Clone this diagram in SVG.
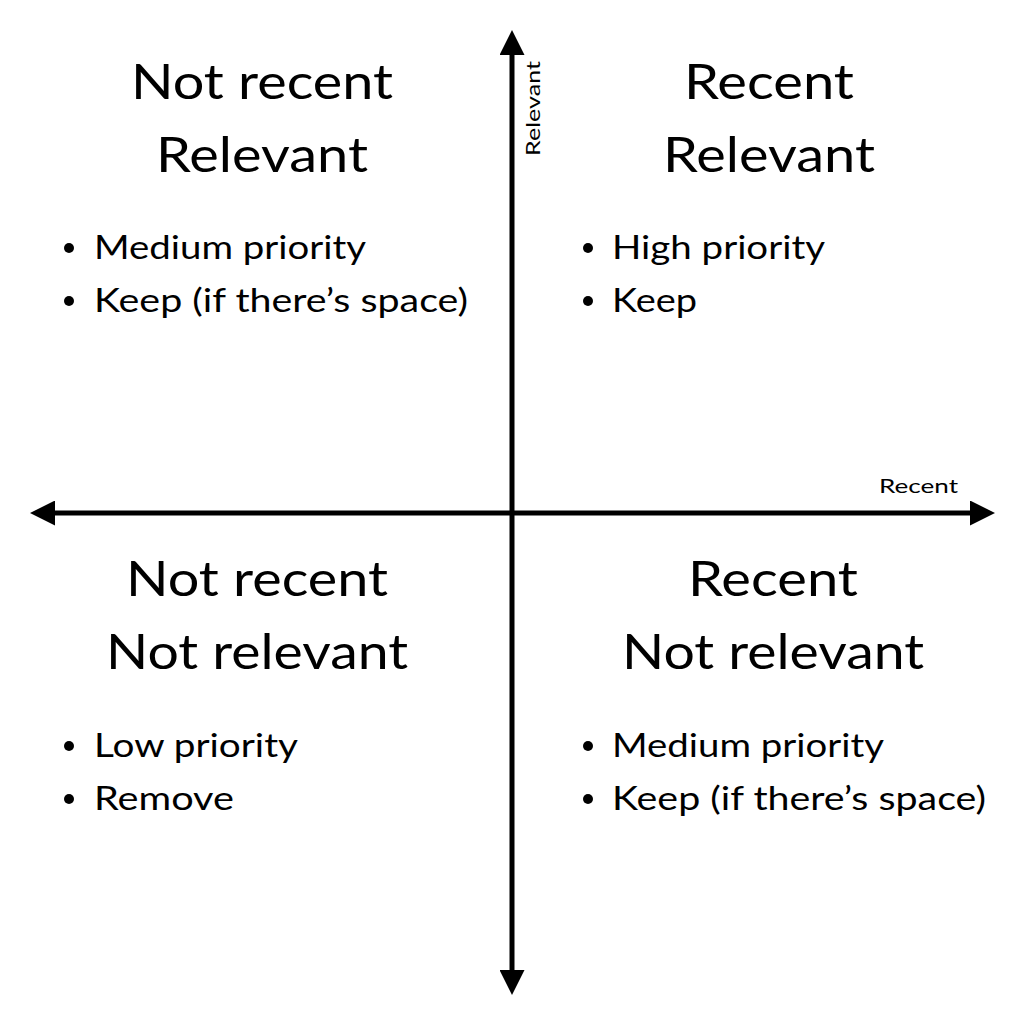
<svg xmlns="http://www.w3.org/2000/svg" width="1024" height="1024" viewBox="0 0 1024 1024">
<style>
.h{font-family:Lato,"Open Sans",sans-serif;font-size:48px;fill:#000;text-anchor:middle}
.b{font-family:Lato,"Open Sans",sans-serif;font-size:32px;fill:#000}
.s{font-family:Lato,"Open Sans",sans-serif;font-size:20px;fill:#000}
.ax{stroke:#000;stroke-width:5;fill:none}
</style>
<defs>
<marker id="ah" viewBox="0 0 10 10" refX="2" refY="5" markerWidth="5" markerHeight="5" orient="auto-start-reverse" markerUnits="strokeWidth">
<path d="M0,0 L10,5 L0,10 z" fill="#000"/>
</marker>
</defs>
<rect width="1024" height="1024" fill="#fff"/>
<g id="connectors">
<line class="ax" x1="512" y1="50" x2="512" y2="975" marker-start="url(#ah)" marker-end="url(#ah)"/>
<line class="ax" x1="50" y1="513" x2="975" y2="513" marker-start="url(#ah)" marker-end="url(#ah)"/>
</g>
<g id="axis-labels">
<text class="s" transform="translate(540,156) rotate(-90)" textLength="95" lengthAdjust="spacingAndGlyphs">Relevant</text>
<text class="s" x="879" y="493" textLength="79" lengthAdjust="spacingAndGlyphs">Recent</text>
</g>
<g id="q-tl">
<text class="h" x="262" y="99" textLength="262" lengthAdjust="spacingAndGlyphs">Not recent</text>
<text class="h" x="262" y="172" textLength="212" lengthAdjust="spacingAndGlyphs">Relevant</text>
<circle cx="69" cy="248" r="5"/><text class="b" x="94" y="259" textLength="272" lengthAdjust="spacingAndGlyphs">Medium priority</text>
<circle cx="69" cy="301" r="5"/><text class="b" x="94" y="312" textLength="374" lengthAdjust="spacingAndGlyphs">Keep (if there’s space)</text>
</g>
<g id="q-tr">
<text class="h" x="769" y="99" textLength="170" lengthAdjust="spacingAndGlyphs">Recent</text>
<text class="h" x="769" y="172" textLength="212" lengthAdjust="spacingAndGlyphs">Relevant</text>
<circle cx="588" cy="248" r="5"/><text class="b" x="612" y="259" textLength="213" lengthAdjust="spacingAndGlyphs">High priority</text>
<circle cx="588" cy="301" r="5"/><text class="b" x="612" y="312" textLength="85" lengthAdjust="spacingAndGlyphs">Keep</text>
</g>
<g id="q-bl">
<text class="h" x="257" y="596" textLength="262" lengthAdjust="spacingAndGlyphs">Not recent</text>
<text class="h" x="257" y="669" textLength="302" lengthAdjust="spacingAndGlyphs">Not relevant</text>
<circle cx="69" cy="746" r="5"/><text class="b" x="94" y="757" textLength="204" lengthAdjust="spacingAndGlyphs">Low priority</text>
<circle cx="69" cy="799" r="5"/><text class="b" x="94" y="810" textLength="140" lengthAdjust="spacingAndGlyphs">Remove</text>
</g>
<g id="q-br">
<text class="h" x="773" y="596" textLength="170" lengthAdjust="spacingAndGlyphs">Recent</text>
<text class="h" x="773" y="669" textLength="302" lengthAdjust="spacingAndGlyphs">Not relevant</text>
<circle cx="588" cy="746" r="5"/><text class="b" x="612" y="757" textLength="272" lengthAdjust="spacingAndGlyphs">Medium priority</text>
<circle cx="588" cy="799" r="5"/><text class="b" x="612" y="810" textLength="374" lengthAdjust="spacingAndGlyphs">Keep (if there’s space)</text>
</g>
</svg>
